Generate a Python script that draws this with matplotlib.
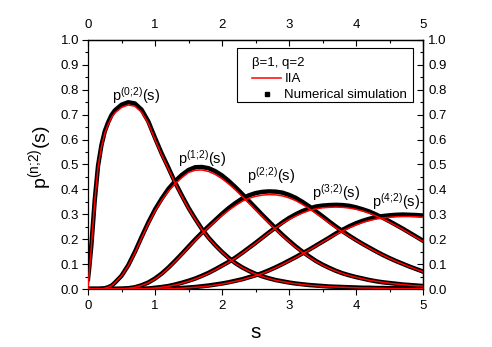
import matplotlib
matplotlib.use('Agg')
import matplotlib.pyplot as plt
from matplotlib.lines import Line2D
from matplotlib.patches import Rectangle

plt.rcParams['font.family'] = ['Liberation Sans', 'DejaVu Sans']
plt.rcParams['mathtext.default'] = 'regular'

# s grid
s = [0.0, 0.02, 0.05, 0.1, 0.15, 0.2, 0.25, 0.3, 0.35, 0.4,
     0.5, 0.6, 0.7, 0.8, 0.9, 1.0, 1.1, 1.2, 1.3, 1.4,
     1.5, 1.6, 1.7, 1.8, 1.9, 2.0, 2.1, 2.2, 2.3, 2.4,
     2.5, 2.6, 2.7, 2.8, 2.9, 3.0, 3.1, 3.2, 3.3, 3.4,
     3.5, 3.6, 3.7, 3.8, 3.9, 4.0, 4.1, 4.2, 4.3, 4.4,
     4.5, 4.6, 4.7, 4.8, 4.9, 5.0]

# IIA curves (red)
iia_0 = [0.0, 0.07, 0.17, 0.35, 0.49, 0.57, 0.625, 0.66, 0.688, 0.707,
         0.729, 0.739, 0.734, 0.71, 0.665, 0.60, 0.538, 0.482, 0.424, 0.372,
         0.323, 0.279, 0.239, 0.204, 0.174, 0.147, 0.123, 0.102, 0.086, 0.072,
         0.060, 0.050, 0.042, 0.035, 0.030, 0.025, 0.021, 0.018, 0.015, 0.013,
         0.011, 0.009, 0.008, 0.007, 0.006, 0.005, 0.004, 0.004, 0.003, 0.003,
         0.002, 0.002, 0.002, 0.001, 0.001, 0.001]
iia_1 = [0.0, 0.0, 0.0, 0.0, 0.0, 0.001, 0.003, 0.007, 0.013, 0.025,
         0.052, 0.093, 0.145, 0.205, 0.262, 0.313, 0.356, 0.393, 0.423, 0.447,
         0.468, 0.477, 0.478, 0.472, 0.460, 0.443, 0.422, 0.398, 0.372, 0.345,
         0.318, 0.291, 0.265, 0.239, 0.214, 0.190, 0.168, 0.147, 0.128, 0.111,
         0.096, 0.083, 0.072, 0.062, 0.054, 0.047, 0.041, 0.035, 0.031, 0.027,
         0.023, 0.020, 0.018, 0.015, 0.013, 0.012]
iia_2 = [0.0, 0.0, 0.0, 0.0, 0.0, 0.0, 0.0, 0.0, 0.0, 0.0,
         0.001, 0.003, 0.007, 0.014, 0.025, 0.040, 0.060, 0.084, 0.110, 0.138,
         0.167, 0.195, 0.222, 0.248, 0.272, 0.295, 0.316, 0.335, 0.352, 0.364,
         0.372, 0.377, 0.379, 0.378, 0.374, 0.366, 0.355, 0.340, 0.323, 0.304,
         0.285, 0.265, 0.246, 0.228, 0.211, 0.195, 0.179, 0.164, 0.149, 0.136,
         0.123, 0.111, 0.100, 0.089, 0.079, 0.069]
iia_3 = [0.0, 0.0, 0.0, 0.0, 0.0, 0.0, 0.0, 0.0, 0.0, 0.0,
         0.0, 0.0, 0.0, 0.001, 0.002, 0.004, 0.007, 0.011, 0.016, 0.023,
         0.031, 0.040, 0.051, 0.063, 0.077, 0.092, 0.107, 0.124, 0.143, 0.163,
         0.183, 0.204, 0.225, 0.245, 0.263, 0.279, 0.293, 0.305, 0.315, 0.322,
         0.326, 0.328, 0.329, 0.328, 0.325, 0.320, 0.313, 0.304, 0.293, 0.281,
         0.268, 0.254, 0.239, 0.223, 0.207, 0.191]
iia_4 = [0.0, 0.0, 0.0, 0.0, 0.0, 0.0, 0.0, 0.0, 0.0, 0.0,
         0.0, 0.0, 0.0, 0.0, 0.0, 0.0, 0.0, 0.001, 0.002, 0.003,
         0.005, 0.007, 0.009, 0.012, 0.016, 0.020, 0.025, 0.031, 0.037, 0.045,
         0.053, 0.062, 0.073, 0.085, 0.098, 0.112, 0.126, 0.141, 0.156, 0.172,
         0.188, 0.204, 0.219, 0.233, 0.246, 0.257, 0.267, 0.275, 0.281, 0.285,
         0.288, 0.290, 0.291, 0.291, 0.290, 0.288]

# Numerical simulation (black)
sim_0 = [0.04, 0.09, 0.175, 0.355, 0.495, 0.577, 0.633, 0.669, 0.698, 0.717,
         0.740, 0.750, 0.745, 0.720, 0.673, 0.607, 0.544, 0.487, 0.428, 0.376,
         0.326, 0.282, 0.241, 0.206, 0.176, 0.149, 0.125, 0.104, 0.087, 0.073,
         0.061, 0.051, 0.043, 0.036, 0.031, 0.026, 0.022, 0.019, 0.016, 0.014,
         0.012, 0.010, 0.009, 0.008, 0.007, 0.006, 0.005, 0.005, 0.004, 0.004,
         0.003, 0.003, 0.003, 0.002, 0.002, 0.002]
sim_1 = [0.0, 0.0, 0.0, 0.0, 0.0, 0.001, 0.003, 0.007, 0.013, 0.025,
         0.053, 0.095, 0.149, 0.209, 0.267, 0.319, 0.363, 0.402, 0.433, 0.458,
         0.478, 0.489, 0.490, 0.485, 0.473, 0.456, 0.434, 0.409, 0.382, 0.354,
         0.326, 0.298, 0.271, 0.244, 0.218, 0.194, 0.171, 0.150, 0.131, 0.113,
         0.098, 0.085, 0.073, 0.063, 0.055, 0.048, 0.042, 0.036, 0.031, 0.027,
         0.024, 0.021, 0.018, 0.016, 0.014, 0.012]
sim_2 = [0.0, 0.0, 0.0, 0.0, 0.0, 0.0, 0.0, 0.0, 0.0, 0.0,
         0.001, 0.003, 0.007, 0.015, 0.026, 0.042, 0.062, 0.086, 0.113, 0.141,
         0.170, 0.199, 0.226, 0.252, 0.277, 0.302, 0.325, 0.345, 0.363, 0.376,
         0.385, 0.390, 0.392, 0.391, 0.387, 0.378, 0.366, 0.350, 0.332, 0.312,
         0.292, 0.271, 0.251, 0.232, 0.214, 0.197, 0.181, 0.166, 0.151, 0.137,
         0.124, 0.112, 0.101, 0.090, 0.080, 0.070]
sim_3 = [0.0, 0.0, 0.0, 0.0, 0.0, 0.0, 0.0, 0.0, 0.0, 0.0,
         0.0, 0.0, 0.0, 0.001, 0.002, 0.005, 0.008, 0.012, 0.018, 0.025,
         0.033, 0.042, 0.053, 0.065, 0.079, 0.094, 0.109, 0.126, 0.145, 0.165,
         0.185, 0.206, 0.227, 0.247, 0.267, 0.285, 0.300, 0.313, 0.323, 0.331,
         0.335, 0.337, 0.338, 0.337, 0.334, 0.328, 0.320, 0.311, 0.299, 0.286,
         0.272, 0.257, 0.242, 0.226, 0.210, 0.194]
sim_4 = [0.0, 0.0, 0.0, 0.0, 0.0, 0.0, 0.0, 0.0, 0.0, 0.0,
         0.0, 0.0, 0.0, 0.0, 0.0, 0.0, 0.0, 0.001, 0.002, 0.004,
         0.006, 0.008, 0.011, 0.014, 0.018, 0.022, 0.027, 0.033, 0.039, 0.047,
         0.055, 0.064, 0.075, 0.087, 0.100, 0.114, 0.128, 0.143, 0.158, 0.174,
         0.190, 0.206, 0.223, 0.238, 0.252, 0.264, 0.274, 0.282, 0.289, 0.293,
         0.296, 0.298, 0.299, 0.298, 0.297, 0.295]

# ticks
x_ticks = [0, 1, 2, 3, 4, 5]
x_minor = [0.5, 1.5, 2.5, 3.5, 4.5]
y_ticks = [0.0, 0.1, 0.2, 0.3, 0.4, 0.5, 0.6, 0.7, 0.8, 0.9, 1.0]
y_tick_labels = ['0.0', '0.1', '0.2', '0.3', '0.4', '0.5', '0.6', '0.7', '0.8', '0.9', '1.0']
y_minor = [0.05, 0.15, 0.25, 0.35, 0.45, 0.55, 0.65, 0.75, 0.85, 0.95]

curve_labels = [r'$\mathregular{p^{(0;\!2)}(s)}$', r'$\mathregular{p^{(1;\!2)}(s)}$',
                r'$\mathregular{p^{(2;\!2)}(s)}$', r'$\mathregular{p^{(3;\!2)}(s)}$',
                r'$\mathregular{p^{(4;\!2)}(s)}$']
label_pos = [(0.36, 0.756), (1.34, 0.502), (2.37, 0.435), (3.34, 0.365), (4.24, 0.33)]

legend_title = 'β=1, q=2'
legend_labels = ['IIA', 'Numerical simulation']
xlabel = 's'
ylabel = r'$\mathregular{p^{(n;\!2)}(s)}$'

fig = plt.figure(figsize=(4.92, 3.47), dpi=100)
ax = fig.add_axes([88 / 492, 1 - 289 / 347, 335 / 492, 249 / 347])

for y in [sim_0, sim_1, sim_2, sim_3, sim_4]:
    ax.plot(s, y, color='black', lw=3.2, zorder=2)
for y in [iia_0, iia_1, iia_2, iia_3, iia_4]:
    ax.plot(s, y, color='red', lw=1.1, zorder=3)

for txt, (xs, ys) in zip(curve_labels, label_pos):
    ax.text(xs, ys, txt, fontsize=10.5, ha='left', va='baseline', zorder=4)

ax.set_xlim(0, 5)
ax.set_ylim(0, 1.0)
ax.set_xticks(x_ticks)
ax.set_xticks(x_minor, minor=True)
ax.set_yticks(y_ticks, y_tick_labels)
ax.set_yticks(y_minor, minor=True)
ax.tick_params(which='both', direction='out', top=False, right=False, width=0.8)
ax.tick_params(which='major', length=4, labelsize=9.5)
ax.tick_params(which='minor', length=2)
ax.tick_params(axis='y', pad=2.5)
ax.tick_params(axis='x', pad=4)
for sp in ax.spines.values():
    sp.set_linewidth(0.9)

secx = ax.secondary_xaxis('top')
secx.set_xticks(x_ticks)
secx.set_xticks(x_minor, minor=True)
secx.tick_params(which='both', direction='in', width=0.8)
secx.tick_params(which='major', length=4, labelsize=9.5, pad=6.5)
secx.tick_params(which='minor', length=2)
secx.spines['top'].set_linewidth(0.9)

secy = ax.secondary_yaxis('right')
secy.set_yticks(y_ticks, y_tick_labels)
secy.set_yticks(y_minor, minor=True)
secy.tick_params(which='both', direction='in', width=0.8)
secy.tick_params(which='major', length=4, labelsize=9.5, pad=3.6)
secy.tick_params(which='minor', length=2)
secy.spines['right'].set_linewidth(0.9)

ax.set_xlabel(xlabel, fontsize=15)
ax.xaxis.set_label_coords(0.5, (289 - 332) / 249)
ax.xaxis.label.set_va('center')
ax.set_ylabel(ylabel, fontsize=14)
ax.yaxis.set_label_coords((40 - 88) / 335, (289 - 157) / 249)
ax.yaxis.label.set_va('center')
ax.yaxis.label.set_ha('center')

# legend frame (drawn separately to match the wide left margin)
frame = Rectangle(((237 - 88) / 335, (289 - 102) / 249), 176 / 335, 54 / 249,
                  transform=ax.transAxes, facecolor='white', edgecolor='black',
                  lw=0.8, zorder=4.5)
ax.add_patch(frame)

handles = [Line2D([], [], color='red', lw=1.1),
           Line2D([], [], color='black', marker='s', ls='none', ms=2.5)]
leg = ax.legend(handles, legend_labels, title=legend_title, loc='upper left',
                bbox_to_anchor=((252 - 88) / 335, (289 - 57) / 249),
                borderaxespad=0, borderpad=0, frameon=False, fontsize=9.5,
                title_fontsize=9.5, alignment='left', handlelength=2.2,
                handletextpad=0.25, labelspacing=0.3)
leg.set_zorder(5)

fig.savefig('out.png', dpi=100)
